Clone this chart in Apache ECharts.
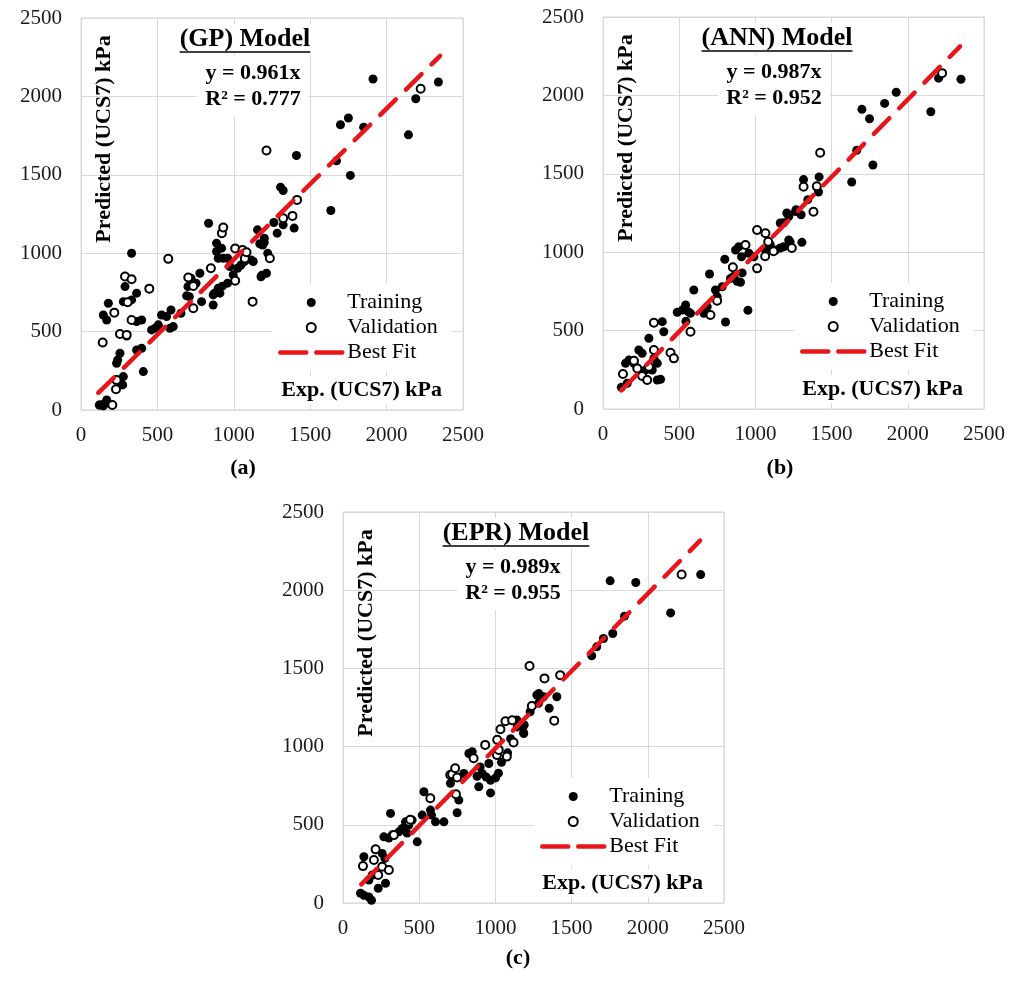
<!DOCTYPE html>
<html>
<head>
<meta charset="utf-8">
<script src="https://cdn.jsdelivr.net/npm/echarts@6/dist/echarts.min.js"></script>
<style>
  html, body { margin: 0; padding: 0; background: #fff; }
  #main { width: 1023px; height: 981px; }
</style>
</head>
<body>
<div id="main"></div>
<script>
// axis scale (kPa)
var axisMin = 0;
var axisMax = 2500;
var axisStep = 500;

var modelNames = ['(GP) Model', '(ANN) Model', '(EPR) Model'];
var panelTags = ['(a)', '(b)', '(c)'];
var fitSlopes = [0.961, 0.987, 0.989];
var fitR2 = ['0.777', '0.952', '0.955'];
// x extent of the best fit lines
var fitFrom = [113, 120, 120];
var fitTo = [2350, 2343, 2343];

// (a) GP model
var gpTraining = [
  [124,32],[146,26],[168,64],[120,32],[153,40],
  [146,606],[168,574],[179,681],
  [229,191],[255,170],[273,160],[277,213],[233,298],[240,319],[255,362],
  [299,472],[288,787],[277,691],[331,702],[331,1000],[364,745],[397,574],[364,564],[397,394],[364,383],[408,245],
  [462,511],[484,521],[506,543],[513,521],[527,606],[560,596],[582,521],[604,532],[589,638],[654,617],
  [691,728],[700,787],[709,723],[720,840],[735,809],[753,808],[778,872],[789,691],
  [835,1191],[865,670],[865,734],[873,744],[898,777],[909,745],[925,790],[959,809],[974,915],[996,862],
  [887,1064],[887,1011],[898,968],[920,1032],[931,968],[960,967],
  [1025,904],[1047,925],[1069,946],[1083,964],[1113,957],[1127,947],
  [1155,1149],[1170,1060],[1199,1068],[1189,1052],[1200,1095],[1178,850],[1184,860],[1214,872],[1222,999],
  [1262,1196],[1284,1128],[1323,1181],[1306,1421],[1323,1400],[1395,1160],[1410,1623],
  [1635,1272],[1672,1589],[1698,1819],[1750,1862],[1763,1496],[1850,1804],[1911,2111],[2143,1755],[2191,1985],[2339,2092]
];
var gpValidation = [
  [142,430],[205,32],[229,132],[233,191],[218,621],[255,485],[299,479],[305,687],[331,574],[288,851],[331,834],
  [447,774],[571,964],[702,845],[735,791],[735,649],[850,904],[922,1128],[931,1164],
  [1009,825],[1009,1030],[1057,1021],[1072,966],[1083,1006],[1123,691],[1236,968],[1214,1655],
  [1323,1223],[1384,1238],[1414,1340],[2223,2049]
];

// (b) ANN model
var annTraining = [
  [120,138],[159,164],[148,291],[170,312],[203,291],[235,376],[257,355],[301,451],[279,249],[323,249],
  [356,185],[378,189],[334,323],[356,291],[399,493],[389,557],
  [487,617],[520,631],[559,621],[574,610],[542,663],[544,559],[596,759],[662,610],[684,653],[699,861],
  [738,759],[749,717],[782,780],[804,555],[799,955],
  [837,833],[858,846],[880,814],[902,808],[913,868],[870,1014],[891,1035],[909,971],[957,993],[990,971],[951,629],
  [1066,1014],[1132,1014],[1186,1035],[1219,1078],[1186,1188],[1219,1227],[1263,1259],
  [1163,1186],[1206,1250],[1267,1271],[1300,1239],[1305,1063],[1228,1065],[1163,1027],[1097,1048],
  [1316,1463],[1344,1335],[1418,1480],[1414,1384],
  [1632,1448],[1665,1650],[1699,1911],[1749,1851],[1771,1556],[1848,1949],[1924,2020],[2151,1896],[2202,2110],[2349,2103]
];
var annValidation = [
  [131,223],[203,308],[225,259],[257,210],[290,185],[301,270],[334,376],[334,550],[443,359],[465,323],
  [574,493],[705,600],[749,691],[852,904],[935,1046],[1011,897],[1011,1142],[1066,1121],[1084,1067],
  [1064,974],[1119,1006],[1239,1027],[1316,1417],[1403,1420],[1381,1258],[1425,1634],[2225,2142]
];

// (c) EPR model
var eprTraining = [
  [115,62],[137,49],[170,38],[187,17],[137,296],[170,147],[192,179],[231,94],[279,126],[257,317],[275,285],
  [268,423],[312,573],[301,415],[323,436],[367,455],[389,476],[410,519],[432,498],[421,447],[454,530],
  [487,391],[520,562],[531,711],[574,594],[581,562],[607,519],[662,519],[749,577],[760,658],[705,766],
  [793,828],[826,956],[848,967],[891,743],[913,828],[940,805],[968,785],[1001,800],[968,704],[957,892],
  [900,870],[880,810],[1020,830],[1040,900],[1080,960],[1100,1050],
  [1143,1126],[1165,1136],[1186,1083],[1285,1339],
  [1189,1138],[1141,1170],[1185,1089],[1228,1223],[1283,1277],[1272,1330],[1316,1319],[1353,1245],[1403,1319],
  [1632,1581],[1665,1638],[1709,1691],[1770,1723],[1753,2060],[1847,1834],[1921,2049],[2150,1855],[2347,2100]
];
var eprValidation = [
  [131,236],[203,275],[214,343],[231,179],[257,232],[301,211],[334,434],[432,519],[441,532],
  [573,670],[704,819],[716,824],[736,862],[741,696],[749,802],[857,926],[933,1011],[1010,947],
  [1012,1043],[1022,979],[1033,1111],[1075,936],[1066,1162],[1110,1168],[1119,1026],
  [1224,1515],[1239,1260],[1322,1436],[1386,1166],[1425,1457],[2222,2100]
];

var trainingSets = [gpTraining, annTraining, eprTraining];
var validationSets = [gpValidation, annValidation, eprValidation];

// layout of the three panels, in page pixels
var panels = [
  { left: 81,  top: 18,  width: 382, height: 392, titleX: 164, eqX: 172, tagX: 243, tagY: 468 },
  { left: 603, top: 17,  width: 381, height: 392, titleX: 174, eqX: 171, tagX: 780, tagY: 468 },
  { left: 343, top: 512, width: 381, height: 391, titleX: 173, eqX: 170, tagX: 518, tagY: 958 }
];

var serif = '"Liberation Serif", "Times New Roman", serif';
var red = '#e8161b';

function textWidth(str, font) {
  var ctx = document.createElement('canvas').getContext('2d');
  ctx.font = font;
  return ctx.measureText(str).width;
}

var chart = echarts.init(document.getElementById('main'));

var grids = [], xAxes = [], yAxes = [], series = [], legends = [], graphics = [];

panels.forEach(function (p, i) {
  grids.push({
    left: p.left, top: p.top, width: p.width, height: p.height,
    show: true, borderColor: '#d6d6d6', borderWidth: 1, backgroundColor: '#fff',
    containLabel: false, outerBoundsMode: 'none'
  });
  var axisCommon = {
    gridIndex: i, type: 'value', min: axisMin, max: axisMax, interval: axisStep,
    axisLine: { show: false }, axisTick: { show: false },
    splitLine: { show: true, lineStyle: { color: '#d9d9d9', width: 1 } }
  };
  var plain = function (v) { return String(v); };
  xAxes.push(Object.assign({}, axisCommon, {
    axisLabel: { fontFamily: serif, fontSize: 21, color: '#1a1a1a', margin: 15, formatter: plain }
  }));
  yAxes.push(Object.assign({}, axisCommon, {
    axisLabel: { fontFamily: serif, fontSize: 21, color: '#1a1a1a', margin: 19, formatter: plain }
  }));

  series.push({
    type: 'scatter', name: 'Training', xAxisIndex: i, yAxisIndex: i,
    data: trainingSets[i], symbol: 'circle', symbolSize: 9,
    itemStyle: { color: '#000', opacity: 1 }, z: 2
  });
  series.push({
    type: 'scatter', name: 'Validation', xAxisIndex: i, yAxisIndex: i,
    data: validationSets[i], symbol: 'circle', symbolSize: 8,
    itemStyle: { color: '#fff', borderColor: '#000', borderWidth: 2, opacity: 1 }, z: 3
  });
  series.push({
    type: 'line', name: 'Best Fit', xAxisIndex: i, yAxisIndex: i,
    data: [[fitFrom[i], fitFrom[i] * fitSlopes[i]], [fitTo[i], fitTo[i] * fitSlopes[i]]],
    symbol: 'none', showSymbol: false, silent: true, z: 4,
    itemStyle: { color: red },
    lineStyle: { color: red, width: 4.5, type: [22, 14], cap: 'round' }
  });

  legends.push({
    data: [
      'Training',
      'Validation',
      {
        name: 'Best Fit',
        itemStyle: { color: 'rgba(0,0,0,0)', borderWidth: 0, opacity: 0 },
        lineStyle: { color: red, width: 4.5, type: [26, 10], cap: 'round', opacity: 1 }
      }
    ],
    orient: 'vertical', left: p.left + 191, top: p.top + 266,
    itemWidth: 62, itemHeight: 9, itemGap: 0,
    padding: [6, 14, 6, 6], backgroundColor: '#fff',
    selectedMode: false,
    textStyle: { fontFamily: serif, fontSize: 22, color: '#000', lineHeight: 25 }
  });

  // model title, underlined
  var titleFont = 'bold 26px ' + serif;
  var cx = p.left + p.titleX;
  var tw = textWidth(modelNames[i], titleFont);
  graphics.push({
    type: 'text', x: cx, y: p.top + 21, z: 10,
    style: {
      text: modelNames[i], font: titleFont, fill: '#000',
      textAlign: 'center', align: 'center', textVerticalAlign: 'middle', verticalAlign: 'middle',
      backgroundColor: '#fff', padding: [2, 6]
    }
  });
  graphics.push({
    type: 'line', z: 11,
    shape: { x1: cx - tw / 2, y1: p.top + 34, x2: cx + tw / 2, y2: p.top + 34 },
    style: { stroke: '#000', lineWidth: 1.5 }
  });

  // fit equation
  graphics.push({
    type: 'text', x: p.left + p.eqX, y: p.top + 68, z: 10,
    style: {
      text: 'y = ' + fitSlopes[i].toFixed(3) + 'x\nR\u00b2 = ' + fitR2[i],
      font: 'bold 22px ' + serif, lineHeight: 26, fill: '#000',
      textAlign: 'center', align: 'center', textVerticalAlign: 'middle', verticalAlign: 'middle',
      backgroundColor: '#fff', padding: [4, 8]
    }
  });

  // axis titles
  graphics.push({
    type: 'text', x: p.left + 23, y: p.top + 121, rotation: Math.PI / 2, z: 10,
    style: {
      text: 'Predicted (UCS7) kPa', font: 'bold 22px ' + serif, fill: '#000',
      textAlign: 'center', align: 'center', textVerticalAlign: 'middle', verticalAlign: 'middle'
    }
  });
  graphics.push({
    type: 'text', x: p.left + p.width - 17, y: p.top + p.height - 20, z: 10,
    style: {
      text: 'Exp. (UCS7) kPa', font: 'bold 22px ' + serif, fill: '#000',
      textAlign: 'right', align: 'right', textVerticalAlign: 'middle', verticalAlign: 'middle',
      backgroundColor: '#fff', padding: [3, 4]
    }
  });

  // panel tag
  graphics.push({
    type: 'text', x: p.tagX, y: p.tagY, z: 10,
    style: {
      text: panelTags[i], font: 'bold 22px ' + serif, fill: '#000',
      textAlign: 'center', align: 'center', textVerticalAlign: 'middle', verticalAlign: 'middle'
    }
  });
});

chart.setOption({
  animation: false,
  backgroundColor: '#fff',
  grid: grids,
  xAxis: xAxes,
  yAxis: yAxes,
  legend: legends,
  series: series,
  graphic: graphics
});
</script>
</body>
</html>
